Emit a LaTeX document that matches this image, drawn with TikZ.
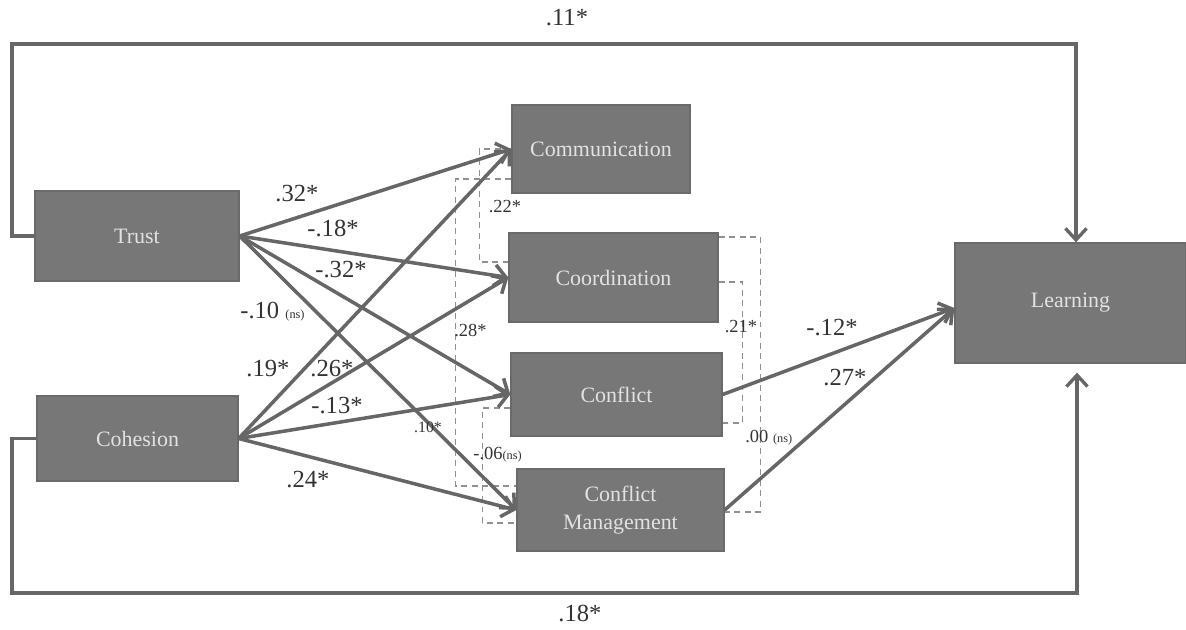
\documentclass[tikz,border=0pt]{standalone}
\usepackage{fontspec}
\setmainfont{Liberation Serif}
\usetikzlibrary{arrows.meta,calc}
\definecolor{boxfill}{HTML}{777777}
\definecolor{boxline}{HTML}{6A6A6A}
\definecolor{boxtext}{HTML}{E2E2E2}
\definecolor{linecol}{HTML}{666666}
\definecolor{dashcol}{HTML}{909090}
\definecolor{labcol}{HTML}{333333}
\tikzset{
  box/.style={draw=boxline, line width=0.8pt, fill=boxfill, text=boxtext,
    font=\fontsize{12.5}{14}\selectfont, align=center, inner sep=0pt},
  conn/.style={draw=linecol, line width=2pt,
    -{Straight Barb[length=6.5pt,width=12pt,line width=2pt]}},
  loopline/.style={draw=linecol, line width=1.9pt, line join=miter,
    -{Straight Barb[length=6.5pt,width=12pt,line width=1.9pt]}},
  corr/.style={draw=dashcol, line width=0.8pt, dash pattern=on 3.4pt off 2.6pt},
  coef/.style={text=labcol, font=\fontsize{14}{16}\selectfont, inner sep=0pt},
  small/.style={text=labcol, font=\fontsize{10.5}{12}\selectfont, inner sep=0pt},
}
\newcommand{\nsmark}{{\fontsize{7}{8}\selectfont(ns)}}
\begin{document}
\begin{tikzpicture}[x=0.02cm, y=-0.02cm]
\useasboundingbox (0,0) rectangle (1186,629);

% constructs
\node[box, minimum width=4.08cm, minimum height=1.80cm] (trust)    at (137,236)   {Trust};
\node[box, minimum width=4.02cm, minimum height=1.70cm] (cohesion) at (137.5,438.5) {Cohesion};
\node[box, minimum width=3.56cm, minimum height=1.76cm] (comm)     at (601,149)   {Communication};
\node[box, minimum width=4.18cm, minimum height=1.78cm] (coord)    at (613.5,277.5) {Coordination};
\node[box, minimum width=4.22cm, minimum height=1.66cm] (conflict) at (616.5,394.5) {Conflict};
\node[box, minimum width=4.14cm, minimum height=1.64cm] (cm)       at (620.5,510) {Conflict\\[2pt]Management};
\node[box, minimum width=4.62cm, minimum height=2.40cm] (learning) at (1070.5,303) {Learning};

% corner points of the two long direct paths
\coordinate (tl) at (12,44);
\coordinate (tr) at (1076,44);
\coordinate (bl) at (12,593);
\coordinate (br) at (1077,593);

% correlations among the mediators
\draw[corr] (comm.west) -- ++(-32,0) |- ([yshift=0.31cm]coord.west);
\draw[corr] ([yshift=-0.6cm]comm.west) -- ++(-56,0) |- ([yshift=0.48cm]cm.west);
\draw[corr] ([yshift=-0.09cm]coord.east) -- ++(24,0) |- ([yshift=-0.57cm]conflict.east);
\draw[corr] ([yshift=0.81cm]coord.east) -- ++(42,0) |- ([yshift=-0.04cm]cm.east);
\draw[corr] ([yshift=-0.27cm]conflict.west) -- ++(-28,0) |- ([yshift=-0.26cm]cm.west);

% paths from trust
\draw[conn] (trust.east) -- (comm.west);
\draw[conn] (trust.east) -- (coord.west);
\draw[conn] (trust.east) -- (conflict.west);
\draw[conn] (trust.east) -- (cm.west);

% paths from cohesion
\draw[conn] (cohesion.east) -- (comm.west);
\draw[conn] (cohesion.east) -- (coord.west);
\draw[conn] (cohesion.east) -- (conflict.west);
\draw[conn] (cohesion.east) -- (cm.west);

% paths to learning
\draw[conn] (conflict.east) -- ([yshift=-0.1cm]learning.west);
\draw[conn] (cm.east) -- ([yshift=-0.1cm]learning.west);

% direct paths
\draw[loopline] (trust.west) -| (tl) -- (tr) -- (tr |- learning.north);
\draw[loopline, shorten >=0.18cm] (cohesion.west) -| (bl) -- (br) -- (br |- learning.south);

% coefficients
\node[coef] (c11) at (567,18) {.11*};
\node[coef] (c18) at (580,613) {.18*};
\node[coef] (t1) at (297,194) {.32*};
\node[coef] (t2) at (333,228) {-.18*};
\node[coef] (t3) at (341,270) {-.32*};
\node[coef, anchor=west] (t4) at (240,312) {-.10 \nsmark};
\node[coef] (h1) at (268,369) {.19*};
\node[coef] (h2) at (332,369) {.26*};
\node[coef] (h3) at (337,406) {-.13*};
\node[coef] (h4) at (308,480) {.24*};
\node[coef] (l1) at (832,328) {-.12*};
\node[coef] (l2) at (845,378) {.27*};

% correlation labels
\node[small] (r1) at (505,207) {.22*};
\node[small, anchor=west] (r2) at (454,330) {.28*};
\node[small] (r3) at (741,327) {.21*};
\node[small, anchor=west] (r4) at (745,438) {.00 \nsmark};
\node[small, anchor=west] (r5) at (473,455) {-.06\nsmark};
\node[small, font=\fontsize{9}{10}\selectfont] (r6) at (428,427) {.10*};
\end{tikzpicture}
\end{document}
